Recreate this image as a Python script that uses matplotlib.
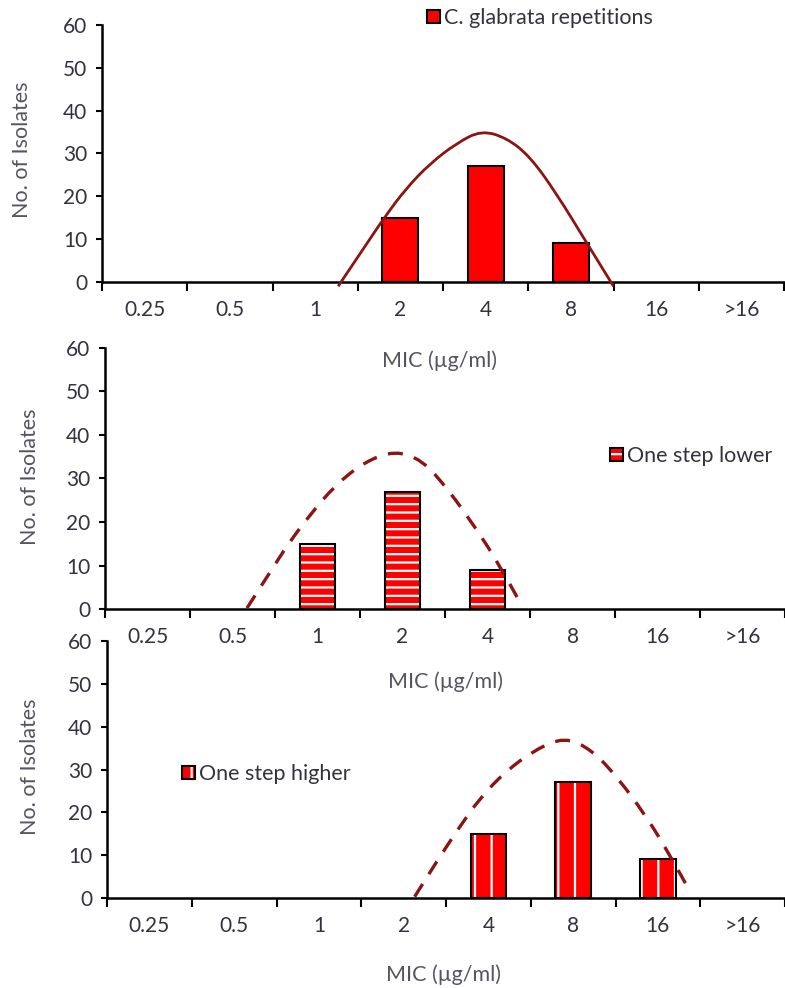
import numpy as np
import matplotlib.pyplot as plt
from matplotlib.patches import Patch, PathPatch
from matplotlib.path import Path

# MIC categories (x axis) and number of isolates per category
categories = ['0.25', '0.5', '1', '2', '4', '8', '16', '>16']
counts_base = [0, 0, 0, 15, 27, 9, 0, 0]
counts_lower = [0, 0, 15, 27, 9, 0, 0, 0]
counts_higher = [0, 0, 0, 0, 15, 27, 9, 0]

# fitted curves (x = category index, y = isolates)
curve_base_x = [2.27, 2.53, 2.82, 3.07, 3.35, 3.66, 3.95, 4.25, 4.52, 4.83, 5.19, 5.50]
curve_base_y = [-1.0, 6.7, 15.3, 21.9, 27.7, 32.4, 35.4, 33.6, 29.3, 20.7, 9.0, -1.0]
curve_lower_x = [1.17, 1.42, 1.66, 1.91, 2.21, 2.56, 2.91, 3.23, 3.54, 3.85, 4.13, 4.40]
curve_lower_y = [0.2, 7.8, 15.1, 21.6, 28.5, 33.9, 36.4, 34.3, 27.4, 18.9, 10.5, 0.9]
curve_higher_x = [3.13, 3.39, 3.65, 3.90, 4.20, 4.55, 4.90, 5.22, 5.53, 5.85, 6.12, 6.38]
curve_higher_y = [0.3, 8.5, 16.3, 23.3, 29.5, 34.6, 37.6, 34.6, 28.0, 19.4, 10.8, 1.5]

W, H = 785, 988
FONT = 'Lato'
TICK_COL = '#33333f'
LAB_COL = '#555560'
CURVE_COL = '#8b1414'
FS_TICK = 15
FS_LAB = 15.5

plt.rcParams['font.family'] = [FONT, 'DejaVu Sans']
plt.rcParams['hatch.linewidth'] = 1.6

fig = plt.figure(figsize=(W / 100, H / 100), dpi=100)


def px_axes(x0, ytop, x1, ybot):
    return fig.add_axes([x0 / W, 1 - ybot / H, (x1 - x0) / W, (ybot - ytop) / H],
                        facecolor='none')


def style_axis(ax, xlab_pos, ylab_pos):
    x = np.arange(len(categories))
    ax.set_xlim(-0.5, len(categories) - 0.5)
    ax.set_ylim(0, 60)
    for s in ['top', 'right']:
        ax.spines[s].set_visible(False)
    for s in ['left', 'bottom']:
        ax.spines[s].set_linewidth(1.8)
        ax.spines[s].set_color('black')
    ax.set_yticks(range(0, 61, 10))
    ax.set_xticks(np.arange(-0.5, len(categories), 1))
    ax.set_xticklabels([])
    ax.set_xticks(x, minor=True)
    ax.set_xticklabels(categories, minor=True)
    ax.tick_params(axis='x', which='major', direction='out', length=6.5, width=1.5)
    ax.tick_params(axis='x', which='minor', length=0, pad=13, labelsize=FS_TICK,
                   labelcolor=TICK_COL)
    ax.tick_params(axis='y', direction='out', length=4.5, width=1.5, pad=6,
                   labelsize=FS_TICK, labelcolor=TICK_COL)
    fig.text(xlab_pos[0] / W, 1 - xlab_pos[1] / H, 'MIC (µg/ml)', fontsize=FS_LAB,
             color=LAB_COL, ha='center', va='center')
    fig.text(ylab_pos[0] / W, 1 - ylab_pos[1] / H, 'No. of Isolates', fontsize=FS_LAB,
             color=LAB_COL, ha='center', va='center', rotation=90)


def smooth_curve(ax, xs, ys, **kw):
    # smoothed line (quadratic segments) like a spreadsheet "smoothed line"
    pts = np.column_stack([xs, ys])
    verts = [pts[0], (pts[0] + pts[1]) / 2]
    codes = [Path.MOVETO, Path.LINETO]
    for i in range(1, len(pts) - 1):
        verts += [pts[i], (pts[i] + pts[i + 1]) / 2 if i < len(pts) - 2 else pts[i + 1]]
        codes += [Path.CURVE3, Path.CURVE3]
    ax.add_patch(PathPatch(Path(verts, codes), fill=False, clip_on=False, zorder=3, **kw))


def add_legend(ax, handle, label, xpx, ypx):
    ax.legend([handle], [label], loc='center left',
              bbox_to_anchor=(xpx / W, 1 - ypx / H), bbox_transform=fig.transFigure,
              frameon=False, handlelength=0.6, handleheight=0.6, handletextpad=0.2,
              borderpad=0, borderaxespad=0, fontsize=FS_LAB, labelcolor=TICK_COL)


x = np.arange(len(categories))
bw = 0.42


def bars(ax, counts, hatch=None):
    c = np.array(counts)
    m = c > 0
    if hatch is None:
        ax.bar(x[m], c[m], width=bw, color='red', edgecolor='black', linewidth=1.5, zorder=2)
    else:
        ax.bar(x[m], c[m], width=bw, color='red', edgecolor='white', hatch=hatch,
               linewidth=0, zorder=2)
        ax.bar(x[m], c[m], width=bw, fill=False, edgecolor='black', linewidth=1.5, zorder=2)


# panel 1: C. glabrata repetitions
ax1 = px_axes(102, 25, 784, 282)
bars(ax1, counts_base)
smooth_curve(ax1, curve_base_x, curve_base_y, edgecolor=CURVE_COL, lw=2.0)
style_axis(ax1, (440, 361), (22, 150))
add_legend(ax1, Patch(facecolor='red', edgecolor='black', lw=1.5),
           'C. glabrata repetitions', 427, 18)

# panel 2: one step lower
ax2 = px_axes(105, 348, 785, 609)
bars(ax2, counts_lower, hatch='--')
smooth_curve(ax2, curve_lower_x, curve_lower_y, edgecolor=CURVE_COL, lw=2.4,
             ls=(0, (4.5, 3.5)))
style_axis(ax2, (446, 682), (30, 477))
add_legend(ax2, (Patch(facecolor='red', edgecolor='white', hatch='--', lw=0),
                 Patch(fill=False, edgecolor='black', lw=1.5)),
           'One step lower', 610, 456)

# panel 3: one step higher
ax3 = px_axes(107, 641, 785, 898)
bars(ax3, counts_higher, hatch='|')
smooth_curve(ax3, curve_higher_x, curve_higher_y, edgecolor=CURVE_COL, lw=2.4,
             ls=(0, (4.5, 3.5)))
style_axis(ax3, (443, 975), (30, 767))
add_legend(ax3, (Patch(facecolor='red', edgecolor='white', hatch='|', lw=0),
                 Patch(fill=False, edgecolor='black', lw=1.5)),
           'One step higher', 182, 774)

fig.savefig('out.png', dpi=100)
